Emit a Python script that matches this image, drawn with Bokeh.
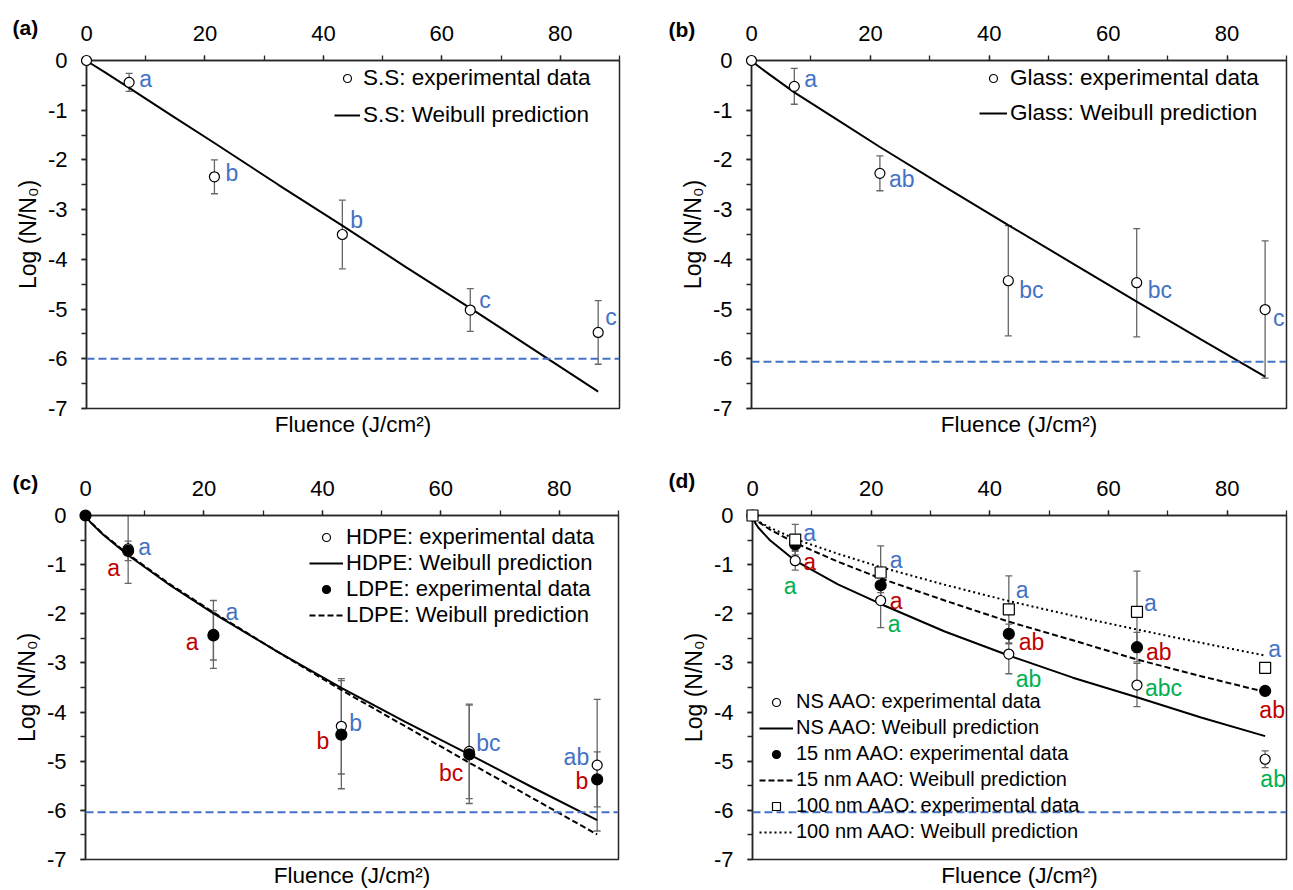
from bokeh.plotting import figure
from bokeh.layouts import column, row
from bokeh.models import (ColumnDataSource, Whisker, TeeHead, Span, Legend, LegendItem,
                          LinearAxis, SingleIntervalTicker, FixedTicker)
from bokeh.embed import file_html
from bokeh.resources import INLINE
from bokeh.core.properties import value, field

# ---------------- data ----------------
fluence = [0, 7.2, 21.6, 43.2, 64.8, 86.4]
curve_x = [0, 0.5, 1, 3, 7.2, 14.4, 21.6, 32.4, 43.2, 54, 64.8, 75.6, 86.4]
y_tick_values = [0, -1, -2, -3, -4, -5, -6, -7]
y_tick_labels = ["0", "-1", "-2", "-3", "-4", "-5", "-6", "-7"]

# (a) stainless steel
ss_mean = [0, -0.44, -2.34, -3.50, -5.02, -5.47]
ss_err = [0, 0.18, 0.34, 0.69, 0.43, 0.64]
ss_letters = ["", "a", "b", "b", "c", "c"]
ss_fit = [0, -0.04, -0.08, -0.23, -0.55, -1.11, -1.66, -2.50, -3.32, -4.16, -4.98, -5.82, -6.66]

# (b) glass
glass_mean = [0, -0.52, -2.27, -4.43, -4.47, -5.01]
glass_err = [0, 0.36, 0.35, 1.11, 1.09, 1.38]
glass_letters = ["", "a", "ab", "bc", "bc", "c"]
glass_fit = [0, -0.05, -0.10, -0.28, -0.64, -1.19, -1.74, -2.53, -3.31, -4.08, -4.85, -5.61, -6.36]

# (c) HDPE / LDPE
hdpe_mean = [0, -0.68, -2.42, -4.29, -4.80, -5.08]
hdpe_err = [0, 0.70, 0.69, 0.97, 0.96, 1.34]
hdpe_letters = ["", "a", "a", "b", "bc", "ab"]
hdpe_fit = [0, -0.09, -0.16, -0.39, -0.81, -1.43, -1.99, -2.77, -3.51, -4.20, -4.86, -5.54, -6.20]
ldpe_mean = [0, -0.72, -2.44, -4.46, -4.86, -5.37]
ldpe_err = [0, 0.20, 0.50, 1.10, 1.00, 0.56]
ldpe_letters = ["", "a", "a", "b", "bc", "b"]
ldpe_fit = [0, -0.07, -0.15, -0.38, -0.79, -1.41, -1.97, -2.77, -3.55, -4.29, -5.03, -5.76, -6.49]

# (d) AAO surfaces
ns_mean = [0, -0.92, -1.73, -2.82, -3.45, -4.96]
ns_err = [0, 0.19, 0.55, 0.40, 0.44, 0.17]
ns_letters = ["", "a", "a", "ab", "abc", "ab"]
ns_fit = [0, -0.16, -0.25, -0.51, -0.92, -1.40, -1.80, -2.36, -2.85, -3.30, -3.70, -4.11, -4.49]
nm15_mean = [0, -0.59, -1.42, -2.41, -2.68, -3.57]
nm15_err = [0, 0.12, 0.15, 0.20, 0.30, 0.08]
nm15_letters = ["", "a", "a", "ab", "ab", "ab"]
nm15_fit = [0, -0.08, -0.13, -0.29, -0.56, -0.94, -1.28, -1.73, -2.16, -2.54, -2.93, -3.27, -3.59]
nm100_mean = [0, -0.49, -1.16, -1.91, -1.96, -3.10]
nm100_err = [0, 0.31, 0.54, 0.68, 0.83, 0.10]
nm100_letters = ["", "a", "a", "a", "a", "a"]
nm100_fit = [0, -0.07, -0.12, -0.25, -0.48, -0.78, -1.05, -1.41, -1.74, -2.04, -2.32, -2.59, -2.85]

detection_limits = [-6.0, -6.06, -6.04, -6.04]
panel_tags = ["(a)", "(b)", "(c)", "(d)"]

# ---------------- styles ----------------
FONT = "Liberation Sans"
BLUE = "#4472C4"
RED = "#C00000"
GREEN = "#00B050"
AXIS = "#262626"
ERR = "#666666"


def make_panel(width, height, borders, tag, tag_dx, tag_dy, limit):
    left, right, top, bottom = borders
    p = figure(width=width, height=height, x_range=(0, 90), y_range=(-7, 0),
               x_axis_location="above", output_backend="svg", toolbar_location=None,
               min_border_left=left, min_border_right=right,
               min_border_top=top, min_border_bottom=bottom)
    p.xgrid.visible = False
    p.ygrid.visible = False
    p.outline_line_color = AXIS
    p.outline_line_width = 1.5
    p.outline_line_alpha = 1.0
    p.background_fill_color = "white"
    p.border_fill_color = "white"

    xa = p.xaxis[0]
    xa.ticker = SingleIntervalTicker(interval=20, num_minor_ticks=2)
    ya = p.yaxis[0]
    ya.ticker = SingleIntervalTicker(interval=1, num_minor_ticks=2)
    ya.major_label_overrides = {v: s for v, s in zip(y_tick_values, y_tick_labels)}
    for ax in (xa, ya):
        ax.axis_line_color = AXIS
        ax.axis_line_width = 1.5
        ax.major_tick_line_color = AXIS
        ax.minor_tick_line_color = AXIS
        ax.major_tick_line_width = 1.3
        ax.minor_tick_line_width = 1.3
        ax.major_tick_in = 0
        ax.minor_tick_in = 0
        ax.major_tick_out = 5
        ax.minor_tick_out = 5
        ax.major_label_text_font = FONT
        ax.major_label_text_font_size = "22px"
        ax.major_label_text_color = "black"
    xa.major_label_standoff = 15
    ya.major_label_standoff = 14
    ya.axis_label = "Log (N/N\u2080)"
    ya.axis_label_standoff = 4
    ya.axis_label_text_font = FONT
    ya.axis_label_text_font_size = "23px"
    ya.axis_label_text_font_style = "normal"
    ya.axis_label_text_color = "black"

    bottom_axis = LinearAxis(ticker=FixedTicker(ticks=[]), axis_label="Fluence (J/cm\u00b2)",
                             axis_line_color=None, major_tick_out=0, major_tick_in=0,
                             minor_tick_out=0, minor_tick_in=0, major_label_standoff=0,
                             axis_label_standoff=3, axis_label_text_font=FONT,
                             axis_label_text_font_size="22.5px",
                             axis_label_text_font_style="normal",
                             axis_label_text_color="black")
    p.add_layout(bottom_axis, "below")

    p.add_layout(Span(location=limit, dimension="width", line_color=BLUE,
                      line_width=2, line_dash="8 4"))
    p.text(x=[0], y=[0], text=[tag], x_offset=tag_dx, y_offset=tag_dy,
           text_font=value(FONT), text_font_style="bold", text_font_size=value("21px"),
           text_baseline="middle", text_align="left", text_color="black", level="overlay")
    return p


def add_errors(p, means, errs):
    src = ColumnDataSource(dict(x=fluence,
                                upper=[m + e for m, e in zip(means, errs)],
                                lower=[m - e for m, e in zip(means, errs)]))
    p.add_layout(Whisker(source=src, base="x", upper="upper", lower="lower",
                         line_color=ERR, line_width=1.3,
                         upper_head=TeeHead(size=7, line_color=ERR, line_width=1.3),
                         lower_head=TeeHead(size=7, line_color=ERR, line_width=1.3)))


def add_points(p, means, marker, filled, size):
    return p.scatter(fluence, means, marker=marker, size=size,
                     fill_color="black" if filled else "white",
                     line_color="black", line_width=1.2, level="overlay")


def add_letters(p, means, letters, color, dx, dy, align):
    idx = [i for i, t in enumerate(letters) if t]
    src = ColumnDataSource(dict(x=[fluence[i] for i in idx], y=[means[i] for i in idx],
                                t=[letters[i] for i in idx], dx=[dx[i] for i in idx],
                                dy=[dy[i] for i in idx], al=[align[i] for i in idx]))
    p.text(x="x", y="y", text="t", x_offset="dx", y_offset="dy", text_align=field("al"),
           text_baseline="middle", text_font=value(FONT), text_font_size=value("23px"),
           text_color=color, source=src, level="overlay")


def add_legend(p, items, loc, font_size, glyph_w, spacing, label_h):
    p.add_layout(Legend(items=items, location=loc, border_line_color=None,
                        background_fill_alpha=0, label_text_font=FONT,
                        label_text_font_size=font_size, label_text_color="black",
                        glyph_width=glyph_w, glyph_height=20, label_height=label_h,
                        label_standoff=3, spacing=spacing, padding=4, margin=0))


L = "left"; R = "right"; C = "center"

# ---------------- panel (a) ----------------
pa = make_panel(646, 445, (86, 27, 60, 37), panel_tags[0], -74, -33, detection_limits[0])
la = pa.line(curve_x, ss_fit, line_color="black", line_width=2)
add_errors(pa, ss_mean, ss_err)
sa = add_points(pa, ss_mean, "circle", False, 10)
add_letters(pa, ss_mean, ss_letters, BLUE, [0, 10, 11, 8, 9, 7], [0, -3, -4, -15, -10, -15], [L] * 6)
add_legend(pa, [LegendItem(label="S.S: experimental data", renderers=[sa]),
                LegendItem(label="S.S: Weibull prediction", renderers=[la])],
           (248, 280), "22.5px", 26, 11, 24)

# ---------------- panel (b) ----------------
pb = make_panel(647, 445, (105, 7, 60, 37), panel_tags[1], -83, -31, detection_limits[1])
lb = pb.line(curve_x, glass_fit, line_color="black", line_width=2)
add_errors(pb, glass_mean, glass_err)
sb = add_points(pb, glass_mean, "circle", False, 10)
add_letters(pb, glass_mean, glass_letters, BLUE, [0, 10, 9, 11, 11, 8], [0, -7, 6, 9, 7, 8], [L] * 6)
add_legend(pb, [LegendItem(label="Glass: experimental data", renderers=[sb]),
                LegendItem(label="Glass: Weibull prediction", renderers=[lb])],
           (228, 282), "22.5px", 28, 9, 24)

# ---------------- panel (c) ----------------
pc = make_panel(646, 445, (85, 28, 70, 27), panel_tags[2], -73, -33, detection_limits[2])
lc1 = pc.line(curve_x, hdpe_fit, line_color="black", line_width=2)
lc2 = pc.line(curve_x, ldpe_fit, line_color="black", line_width=2, line_dash="6 3")
add_errors(pc, hdpe_mean, hdpe_err)
add_errors(pc, ldpe_mean, ldpe_err)
sc1 = add_points(pc, hdpe_mean, "circle", False, 10)
sc2 = add_points(pc, ldpe_mean, "circle", True, 11)
add_letters(pc, hdpe_mean, hdpe_letters, BLUE, [0, 10, 12, 8, 7, -8], [0, -2, -22, -3, -8, -8],
            [L, L, L, L, L, R])
add_letters(pc, ldpe_mean, ldpe_letters, RED, [0, -8, -15, -12, -6, -9], [0, 17, 7, 6, 19, 2],
            [R] * 6)
add_legend(pc, [LegendItem(label="HDPE: experimental data", renderers=[sc1]),
                LegendItem(label="HDPE: Weibull prediction", renderers=[lc1]),
                LegendItem(label="LDPE: experimental data", renderers=[sc2]),
                LegendItem(label="LDPE: Weibull prediction", renderers=[lc2])],
           (224, 231), "22px", 34, 0, 22)

# ---------------- panel (d) ----------------
pd_ = make_panel(647, 445, (106, 7, 70, 27), panel_tags[3], -84, -35, detection_limits[3])
ld1 = pd_.line(curve_x, ns_fit, line_color="black", line_width=2)
ld2 = pd_.line(curve_x, nm15_fit, line_color="black", line_width=2, line_dash="6 3")
ld3 = pd_.line(curve_x, nm100_fit, line_color="black", line_width=2, line_dash="2 3")
add_errors(pd_, ns_mean, ns_err)
add_errors(pd_, nm15_mean, nm15_err)
add_errors(pd_, nm100_mean, nm100_err)
sd1 = add_points(pd_, ns_mean, "circle", False, 10)
sd2 = add_points(pd_, nm15_mean, "circle", True, 11)
sd3 = add_points(pd_, nm100_mean, "square", False, 11)
add_letters(pd_, ns_mean, ns_letters, GREEN, [0, -5, 7, 7, 8, 8], [0, 25, 23, 25, 3, 20],
            [L, C, L, L, L, C])
add_letters(pd_, nm15_mean, nm15_letters, RED, [0, 8, 9, 10, 9, 7], [0, 18, 16, 8, 5, 19],
            [L, L, L, L, L, C])
add_letters(pd_, nm100_mean, nm100_letters, BLUE, [0, 8, 9, 7, 7, 3], [0, -7, -13, -19, -9, -19],
            [L] * 6)
add_legend(pd_, [LegendItem(label="NS AAO: experimental data", renderers=[sd1]),
                 LegendItem(label="NS AAO: Weibull prediction", renderers=[ld1]),
                 LegendItem(label="15 nm AAO: experimental data", renderers=[sd2]),
                 LegendItem(label="15 nm AAO: Weibull prediction", renderers=[ld2]),
                 LegendItem(label="100 nm AAO: experimental data", renderers=[sd3]),
                 LegendItem(label="100 nm AAO: Weibull prediction", renderers=[ld3])],
           (7, 16), "20px", 34, 3, 22)

layout = column(row(pa, pb), row(pc, pd_))
open("out.html", "w").write(file_html(layout, INLINE))
